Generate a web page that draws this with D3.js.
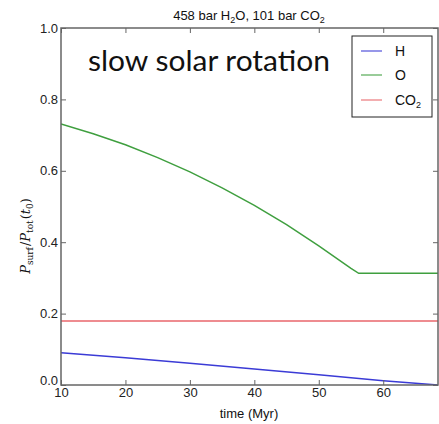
<!DOCTYPE html>
<html><head><meta charset="utf-8">
<script src="https://cdn.jsdelivr.net/npm/d3@7"></script>
<style>body{margin:0;background:#fff}svg{display:block}</style>
</head><body>
<script>
const xTicks = [10,20,30,40,50,60];
const yTicks = [0.0,0.2,0.4,0.6,0.8,1.0];
const tH = [10,20,30,40,50,60,68.5];
const vH = [0.090,0.076,0.061,0.045,0.029,0.012,0.0];
const tO = [10,15,20,25,30,35,40,45,50,55,56.2,68.5];
const vO = [0.731,0.704,0.673,0.637,0.597,0.552,0.503,0.449,0.390,0.327,0.313,0.313];
const tCO2 = [10,68.5];
const vCO2 = [0.179,0.179];
const seriesNames = ["H","O","CO2"];
const colors = ["#3b3bd6","#3f9f3f","#e8666b"];

const W=439,H=424;
const m={l:61,t:28,r:438,b:385};
const svg=d3.select("body").append("svg").attr("width",W).attr("height",H);
const x=d3.scaleLinear().domain([10,68.5]).range([m.l,m.r]);
const y=d3.scaleLinear().domain([0,1]).range([m.b,m.t]);
const font="'Liberation Sans', Arial, sans-serif";

const series=[
  {t:tH,v:vH,c:colors[0]},
  {t:tO,v:vO,c:colors[1]},
  {t:tCO2,v:vCO2,c:colors[2]}
];
const line=d3.line().x(d=>x(d[0])).y(d=>y(d[1]));
const g=svg.append("g");
g.append("defs").append("clipPath").attr("id","cp").append("rect")
 .attr("x",m.l).attr("y",m.t).attr("width",m.r-m.l).attr("height",m.b-m.t);
series.forEach(s=>{
  g.append("path").attr("clip-path","url(#cp)")
   .datum(s.t.map((t,i)=>[t,s.v[i]]))
   .attr("d",line).attr("fill","none").attr("stroke",s.c).attr("stroke-width",1.5);
});

// axes with inward ticks
const axCol="#666";
const ax=(gen,tr)=>{const a=svg.append("g").attr("transform",tr).call(gen);
  a.select(".domain").remove(); a.selectAll("line").attr("stroke",axCol).attr("stroke-width",1);
  a.selectAll("text").attr("font-family",font).attr("font-size",13).attr("fill","#222"); return a;};
ax(d3.axisBottom(x).tickValues(xTicks).tickSize(-5).tickPadding(3).tickFormat(d3.format("d")),`translate(0,${m.b})`);
ax(d3.axisTop(x).tickValues(xTicks).tickSize(-5).tickFormat(""),`translate(0,${m.t})`);
const yAx=ax(d3.axisLeft(y).tickValues(yTicks).tickSize(-5).tickPadding(3).tickFormat(d3.format(".1f")),`translate(${m.l},0)`);
yAx.selectAll(".tick").filter(d=>d===0).select("text").attr("dy","-0.05em");
ax(d3.axisRight(y).tickValues(yTicks).tickSize(-5).tickFormat(""),`translate(${m.r},0)`);
svg.append("rect").attr("x",m.l).attr("y",m.t).attr("width",m.r-m.l).attr("height",m.b-m.t)
 .attr("fill","none").attr("stroke",axCol).attr("stroke-width",1.5);

// title
const title=svg.append("text").attr("x",249).attr("y",20).attr("text-anchor","middle")
 .attr("font-family",font).attr("font-size",13).attr("fill","#111");
title.append("tspan").text("458 bar H");
title.append("tspan").attr("font-size",9).attr("dy",3).text("2");
title.append("tspan").attr("dy",-3).text("O, 101 bar CO");
title.append("tspan").attr("font-size",9).attr("dy",3).text("2");

// annotation
svg.append("text").attr("x",88).attr("y",71).attr("font-family","Lato, 'Open Sans', sans-serif")
 .attr("font-size",29).attr("textLength",242).attr("lengthAdjust","spacingAndGlyphs")
 .attr("fill","#111").text("slow solar rotation");

// x label
svg.append("text").attr("x",249).attr("y",418).attr("text-anchor","middle")
 .attr("font-family",font).attr("font-size",13).attr("fill","#111").text("time (Myr)");

// y label
const yl=svg.append("text").attr("transform","translate(30,236) rotate(-90)").attr("text-anchor","middle")
 .attr("font-family","'DejaVu Serif', serif").attr("font-style","italic").attr("font-size",13).attr("fill","#111");
yl.append("tspan").text("P");
yl.append("tspan").attr("font-size",9).attr("dy",3).attr("font-style","normal").text("surf");
yl.append("tspan").attr("dy",-3).attr("dx",1).attr("font-style","normal").text("/");
yl.append("tspan").text("P");
yl.append("tspan").attr("font-size",9).attr("dy",3).attr("font-style","normal").text("tot");
yl.append("tspan").attr("dy",-3).attr("dx",1).attr("font-style","normal").text("(");
yl.append("tspan").text("t");
yl.append("tspan").attr("font-size",9).attr("dy",3).attr("font-style","normal").text("0");
yl.append("tspan").attr("dy",-3).attr("font-style","normal").text(")");

// legend
const lg=svg.append("g");
lg.append("rect").attr("x",352).attr("y",36).attr("width",80).attr("height",81)
 .attr("fill","#fff").attr("stroke","#222").attr("stroke-width",1);
const lys=[51,75,100];
seriesNames.forEach((n,i)=>{
  lg.append("line").attr("x1",361).attr("x2",382).attr("y1",lys[i]).attr("y2",lys[i])
   .attr("stroke",colors[i]).attr("stroke-width",1.5).attr("opacity",0.7);
  const t=lg.append("text").attr("x",395).attr("y",lys[i]+5).attr("font-family",font)
   .attr("font-size",14).attr("fill","#111");
  if(n==="CO2"){t.append("tspan").text("CO");t.append("tspan").attr("font-size",9).attr("dy",3).text("2");}
  else t.text(n);
});
</script>
</body></html>
